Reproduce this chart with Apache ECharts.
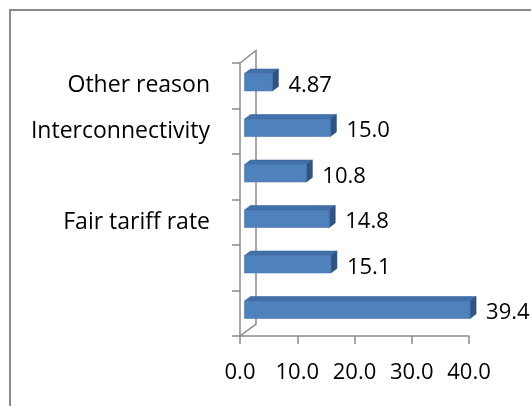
<!DOCTYPE html>
<html>
<head>
<meta charset="utf-8">
<script src="https://cdn.jsdelivr.net/npm/echarts@6/dist/echarts.min.js"></script>
<style>
  html, body { margin: 0; padding: 0; background: #fff; }
  #chart { width: 531px; height: 406px; }
</style>
</head>
<body>
<div id="chart"></div>
<script>
// categories top to bottom (only some labels are shown in the original)
var categories = ['Other reason', 'Interconnectivity', '', 'Fair tariff rate', '', ''];
var values = [4.87, 15.0, 10.8, 14.8, 15.1, 39.4];
var xTicks = [0, 10, 20, 30, 40];

var FONT = '"Open Sans", "Noto Sans", sans-serif';
var GRAY = '#8a8a8a';
// 3d look of the bars
var DX = 6, DY = 4.5, SHIFT = 4.5, BAR_H = 17.4, LIFT = -3.5;

var chart = echarts.init(document.getElementById('chart'));

var data = values.map(function (v, i) { return [v, i]; });

function renderBar(params, api) {
  var v = api.value(0);
  var idx = api.value(1);
  var p0 = api.coord([0, idx]);
  var p1 = api.coord([v, idx]);
  var x0 = p0[0] + SHIFT;
  var x1 = p1[0] + SHIFT;
  var cy = p0[1] + LIFT;
  var top = cy - BAR_H / 2;
  var bot = cy + BAR_H / 2;
  return {
    type: 'group',
    children: [
      {
        type: 'polygon',
        shape: { points: [[x0, top], [x0 + DX, top - DY], [x1 + DX, top - DY], [x1, top]] },
        style: { fill: '#4271aa', stroke: '#3a639a', lineWidth: 0.6 }
      },
      {
        type: 'polygon',
        shape: { points: [[x1, top], [x1 + DX, top - DY], [x1 + DX, bot - DY], [x1, bot]] },
        style: { fill: '#2f5383', stroke: '#2c4d7a', lineWidth: 0.6 }
      },
      {
        type: 'rect',
        shape: { x: x0, y: top, width: x1 - x0, height: BAR_H },
        style: { fill: '#4f81bd', stroke: '#4474ad', lineWidth: 0.6 }
      },
      {
        type: 'text',
        style: {
          text: v.toPrecision(3),
          x: x1 + DX + 10,
          y: p0[1] - 0.5,
          verticalAlign: 'middle',
          align: 'left',
          fill: '#000',
          font: '22px ' + FONT
        }
      }
    ]
  };
}

var option = {
  animation: false,
  grid: { left: 240, top: 63, width: 229, height: 273 },
  xAxis: {
    type: 'value',
    min: xTicks[0],
    max: xTicks[xTicks.length - 1],
    interval: 10,
    axisLine: { show: true, lineStyle: { color: GRAY, width: 1.5 } },
    axisTick: { show: true, length: 8, lineStyle: { color: GRAY, width: 1.5 } },
    splitLine: { show: false },
    axisLabel: {
      margin: 26,
      color: '#000',
      fontSize: 22,
      fontFamily: FONT,
      formatter: function (v) { return v.toFixed(1); }
    }
  },
  yAxis: {
    type: 'category',
    inverse: true,
    data: categories,
    axisLine: { show: true, lineStyle: { color: GRAY, width: 1.5 } },
    axisTick: { show: true, length: 8, lineStyle: { color: GRAY, width: 1.5 } },
    axisLabel: {
      margin: 30,
      interval: 0,
      color: '#000',
      fontSize: 23,
      fontFamily: FONT,
      padding: [4, 0, 0, 0]
    }
  },
  series: [{
    type: 'custom',
    renderItem: renderBar,
    encode: { x: 0, y: 1 },
    data: data,
    z: 3
  }]
};
chart.setOption(option);

// back wall and floor edges of the 3d frame
var a = chart.convertToPixel({ gridIndex: 0 }, [0, 0]);
var gridTop = 63, gridBot = 63 + 273;
var backX = a[0] + 16;
chart.setOption({
  graphic: [
    {
      type: 'rect',
      shape: { x: 10, y: 10, width: 700, height: 600 },
      style: { fill: 'none', stroke: GRAY, lineWidth: 2 },
      z: 1
    },
    {
      type: 'polyline',
      shape: { points: [[a[0], gridTop], [backX, gridTop - 12.5], [backX, gridBot - 12], [a[0], gridBot]] },
      style: { fill: 'none', stroke: GRAY, lineWidth: 1.5 },
      z: 1
    }
  ]
});
</script>
</body>
</html>
